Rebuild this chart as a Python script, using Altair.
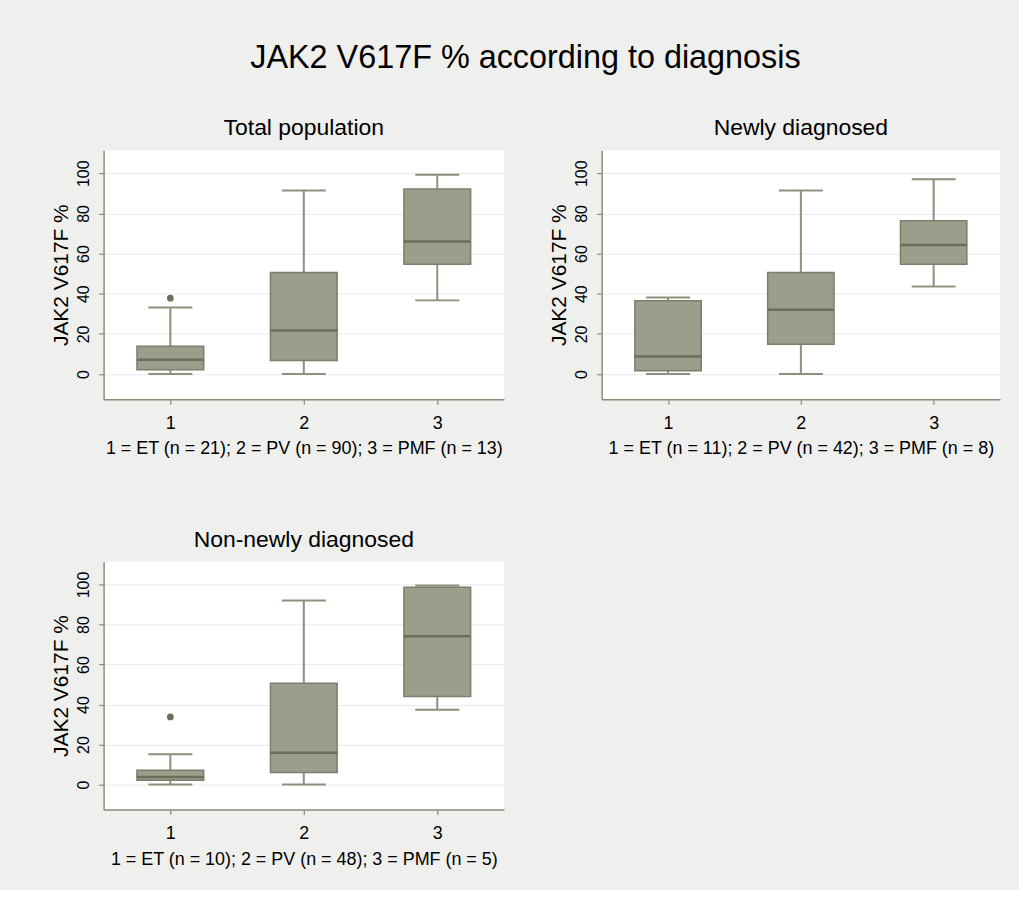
import altair as alt
import pandas as pd

# ---- data ----
categories = [1, 2, 3]

panel_titles = ["Total population", "Newly diagnosed", "Non-newly diagnosed"]
x_titles = [
    "1 = ET (n = 21); 2 = PV (n = 90); 3 = PMF (n = 13)",
    "1 = ET (n = 11); 2 = PV (n = 42); 3 = PMF (n = 8)",
    "1 = ET (n = 10); 2 = PV (n = 48); 3 = PMF (n = 5)",
]

total_low = [0.0, 0.0, 36.7]
total_q1 = [2.2, 6.8, 54.7]
total_med = [7.1, 21.7, 66.0]
total_q3 = [13.8, 50.6, 92.2]
total_high = [33.2, 91.4, 99.2]
total_out_cat = [1]
total_out_val = [37.8]

newly_low = [0.0, 0.0, 43.6]
newly_q1 = [1.7, 14.9, 54.7]
newly_med = [8.8, 32.0, 64.3]
newly_q3 = [36.5, 50.6, 76.3]
newly_high = [38.1, 91.4, 97.0]
newly_out_cat = []
newly_out_val = []

non_low = [0.0, 0.0, 37.4]
non_q1 = [2.2, 6.0, 44.0]
non_med = [3.8, 15.9, 74.2]
non_q3 = [7.1, 50.7, 98.7]
non_high = [15.1, 92.0, 99.5]
non_out_cat = [1]
non_out_val = [33.8]

y_ticks = [0, 20, 40, 60, 80, 100]
y_title = "JAK2 V617F %"
main_title = "JAK2 V617F % according to diagnosis"

# ---- style ----
FONT = "Liberation Sans"
BOX_FILL = "#9c9d8b"
BOX_STROKE = "#7d7e6c"
MEDIAN = "#6c6d5b"
WHISKER = "#8e8f7d"
AXIS = "#8b8c7a"
BG = "#efefed"


def panel(title, xtitle, low, q1, med, q3, high, out_cat, out_val, w, h):
    df = pd.DataFrame({"cat": categories, "lo": low, "q1": q1, "med": med,
                       "q3": q3, "hi": high})
    xs = alt.Scale(domain=[0.5, 3.5], nice=False, zero=False)
    ys = alt.Scale(domain=[-12.5, 111.5], nice=False, zero=False)
    xaxis = alt.Axis(title=xtitle, values=categories, format="d", grid=False,
                     labelAngle=0, tickSize=5, labelPadding=10, titlePadding=8,
                     labelFontSize=18, titleFontSize=18)
    yaxis = alt.Axis(title=y_title, values=y_ticks, grid=True, labelAngle=270,
                     tickSize=5, labelPadding=7, titlePadding=4,
                     labelFontSize=16, titleFontSize=21)

    def X(f):
        return alt.X(f, type="quantitative", scale=xs, axis=xaxis)

    def Y(f):
        return alt.Y(f, type="quantitative", scale=ys, axis=yaxis)

    base = alt.Chart(df).transform_calculate(
        bl="datum.cat - 0.25", br="datum.cat + 0.25",
        cl="datum.cat - 0.165", cr="datum.cat + 0.165")

    w_lo = base.mark_rule(color=WHISKER, strokeWidth=2).encode(
        x=X("cat"), y=Y("lo"), y2="q1:Q")
    w_hi = base.mark_rule(color=WHISKER, strokeWidth=2).encode(
        x=X("cat"), y=Y("q3"), y2="hi:Q")
    cap_lo = base.mark_rule(color=WHISKER, strokeWidth=2).encode(
        x=X("cl"), x2="cr:Q", y=Y("lo"))
    cap_hi = base.mark_rule(color=WHISKER, strokeWidth=2).encode(
        x=X("cl"), x2="cr:Q", y=Y("hi"))
    box = base.mark_rect(fill=BOX_FILL, stroke=BOX_STROKE, strokeWidth=1.5).encode(
        x=X("bl"), x2="br:Q", y=Y("q1"), y2="q3:Q")
    median = base.mark_rule(color=MEDIAN, strokeWidth=2.5).encode(
        x=X("bl"), x2="br:Q", y=Y("med"))
    layers = [w_lo, w_hi, cap_lo, cap_hi, box, median]
    if out_cat:
        odf = pd.DataFrame({"cat": out_cat, "val": out_val})
        pts = alt.Chart(odf).mark_circle(color=MEDIAN, size=45, opacity=1).encode(
            x=X("cat"), y=Y("val"))
        layers.append(pts)
    return alt.layer(*layers).properties(
        width=w, height=h,
        title=alt.TitleParams(title, fontSize=23, offset=10, anchor="middle",
                              fontWeight="normal", font=FONT, color="black"))


p1 = panel(panel_titles[0], x_titles[0], total_low, total_q1, total_med,
           total_q3, total_high, total_out_cat, total_out_val, 402, 250)
p2 = panel(panel_titles[1], x_titles[1], newly_low, newly_q1, newly_med,
           newly_q3, newly_high, newly_out_cat, newly_out_val, 400, 250)
p3 = panel(panel_titles[2], x_titles[2], non_low, non_q1, non_med,
           non_q3, non_high, non_out_cat, non_out_val, 402, 249)

chart = alt.vconcat(
    alt.hconcat(p1, p2, spacing=44),
    p3,
    spacing=71,
).properties(
    title=alt.TitleParams(main_title, fontSize=32.5, anchor="middle", offset=43,
                          fontWeight="normal", font=FONT, color="black"),
    background=BG,
    padding={"left": 50, "top": 40, "right": 19, "bottom": 20},
).configure_view(
    fill="white", strokeWidth=0
).configure_axis(
    domainColor=AXIS, tickColor=AXIS, gridColor="#e9e9e9", domainWidth=1.5,
    tickWidth=1.2, labelFont=FONT, titleFont=FONT, labelColor="black",
    titleColor="black", titleFontWeight="normal"
).configure_concat(spacing=44)

chart.save("out.html", embed_options={"renderer": "svg", "actions": False})
